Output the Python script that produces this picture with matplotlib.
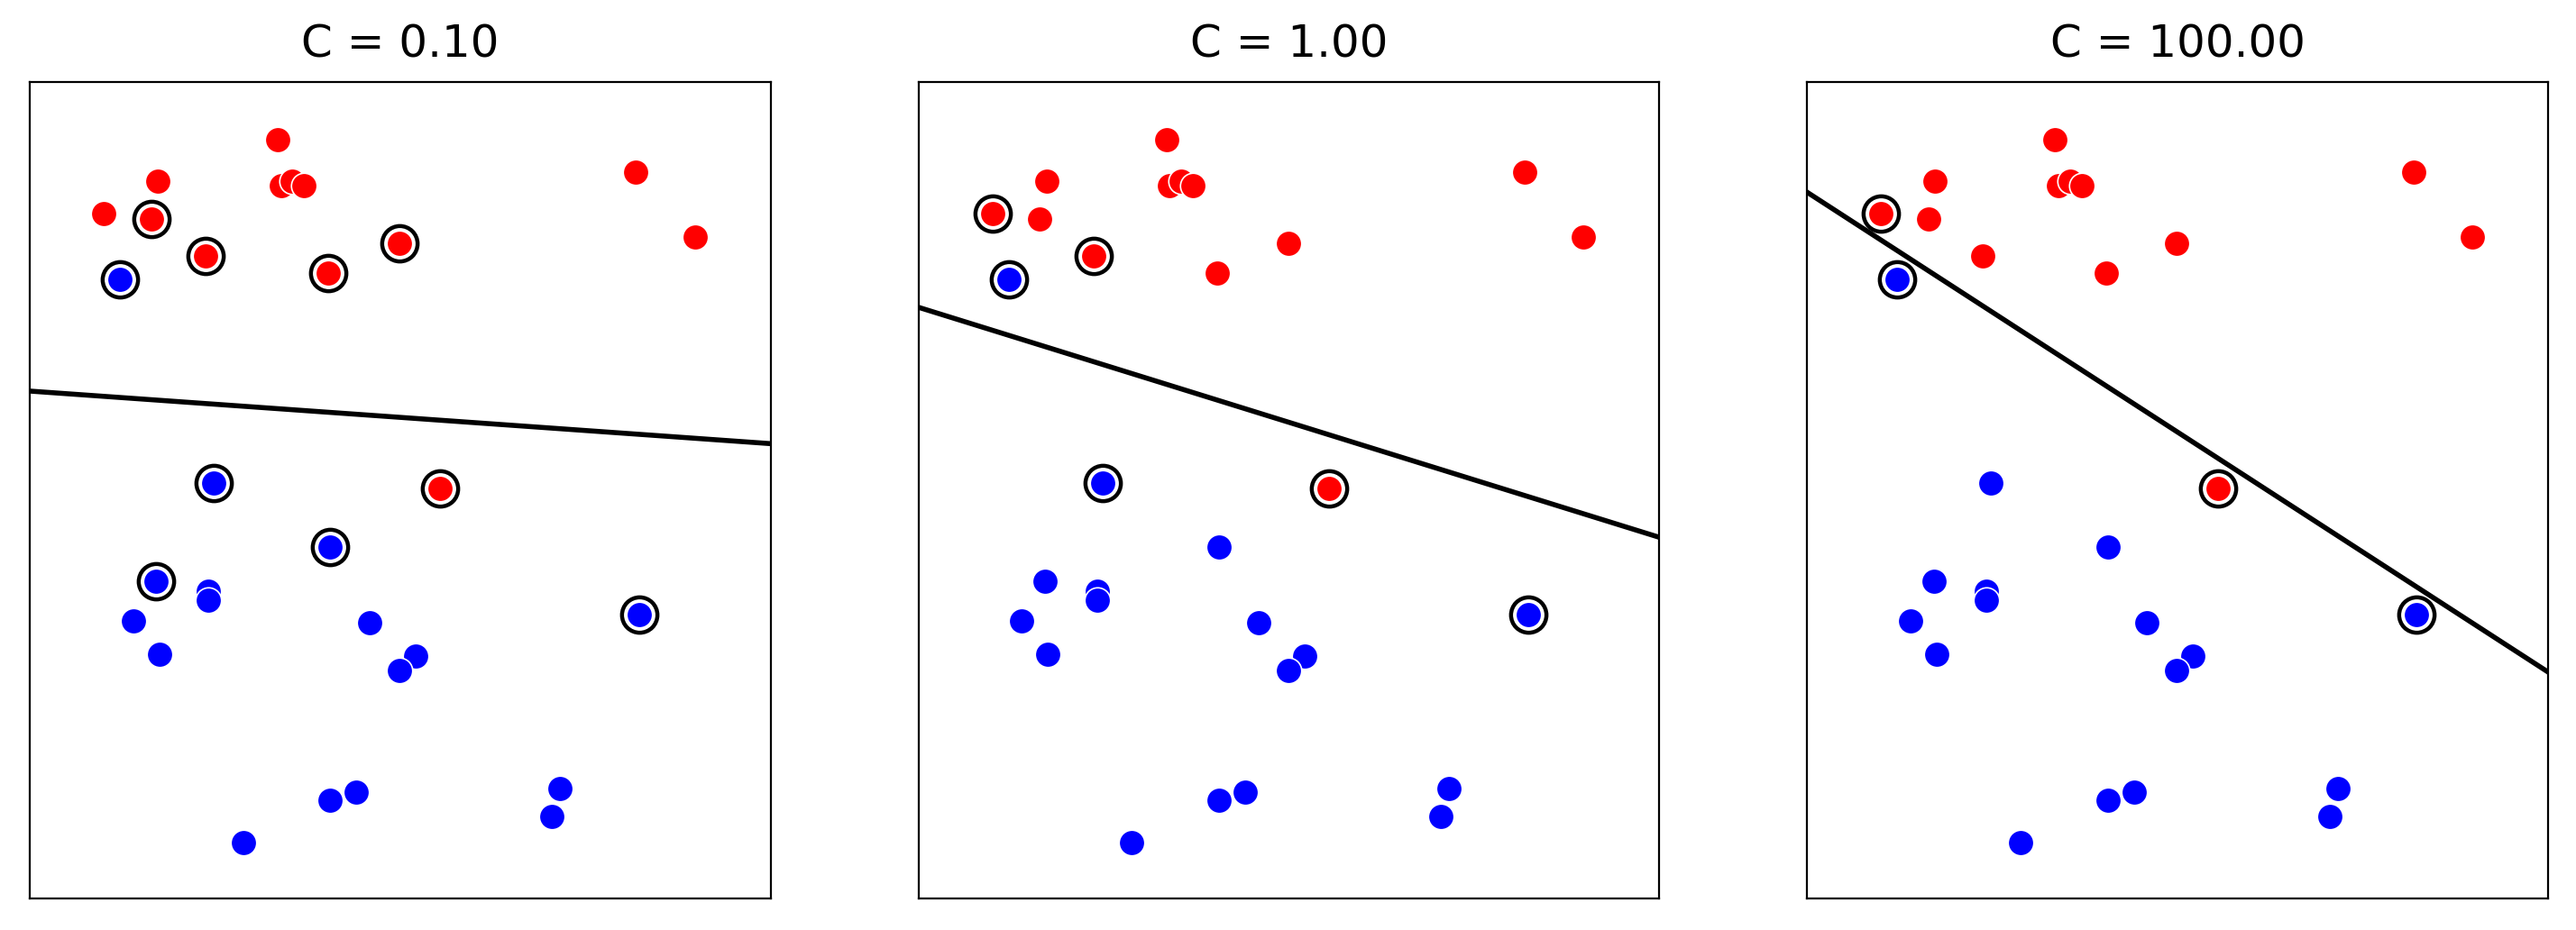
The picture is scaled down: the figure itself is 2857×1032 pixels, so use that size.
import matplotlib
matplotlib.use("Agg")
import matplotlib.pyplot as plt
import numpy as np

# data coords: pixel-based in a 451x497 frame
red_x = [151, 78, 45, 74, 153, 160, 167, 107, 182, 225, 369, 405, 250]
red_y = [462, 437, 417, 414, 434, 437, 434, 391, 381, 399, 442, 403, 250]
blue_x = [55, 112, 183, 77, 109, 109, 63, 79, 207, 235, 225, 371, 130, 183, 199, 323, 318]
blue_y = [377, 253, 214, 193, 187, 182, 169, 149, 168, 148, 139, 173, 34, 60, 65, 67, 50]

titles = ["C = 0.10", "C = 1.00", "C = 100.00"]
# support vectors per panel (indices into red / blue)
sv_red = [[3, 7, 8, 9, 12], [2, 7, 12], [2, 12]]
sv_blue = [[0, 1, 2, 3, 11], [0, 1, 11], [0, 11]]
# decision line: y at x=0 and at x=451
line_y0 = [309, 360, 430]
line_y1 = [277, 220, 138]

fig = plt.figure(figsize=(14.285, 5.16), dpi=200)
W, H = 1568, 566
lefts = [18/W, 559/W, 1100/W]
for i in range(3):
    ax = fig.add_axes([lefts[i], 1 - 547/H, 451/W, 497/H])
    for idx in sv_red[i]:
        ax.scatter(red_x[idx], red_y[idx], s=200, facecolor='white', edgecolor='black', linewidth=1.6, zorder=2)
    for idx in sv_blue[i]:
        ax.scatter(blue_x[idx], blue_y[idx], s=200, facecolor='white', edgecolor='black', linewidth=1.6, zorder=2)
    ax.scatter(red_x, red_y, s=105, c='red', edgecolor='white', linewidth=0.6, zorder=3)
    ax.scatter(blue_x, blue_y, s=105, c='blue', edgecolor='white', linewidth=0.6, zorder=3)
    ax.plot([0, 451], [line_y0[i], line_y1[i]], color='black', linewidth=2, zorder=1)
    ax.set_xlim(0, 451)
    ax.set_ylim(0, 497)
    ax.set_xticks([])
    ax.set_yticks([])
    ax.set_title(titles[i], fontsize=18, pad=10)
fig.savefig("out.png", dpi=200)
